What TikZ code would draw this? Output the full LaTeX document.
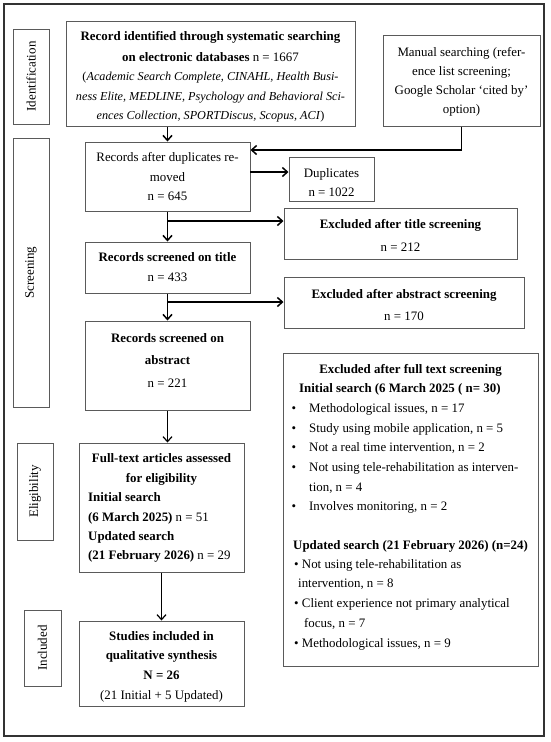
\documentclass[tikz,border=0pt]{standalone}
\usepackage{fontspec}
\setmainfont{Liberation Serif}
\usetikzlibrary{arrows.meta}
\definecolor{boxgray}{HTML}{5A5A5A}
\definecolor{framegray}{HTML}{333333}
\begin{document}
\begin{tikzpicture}[x=1pt,y=-1pt,
  box/.style={draw=boxgray,line width=1pt,inner sep=0pt},
  txt/.style={inner sep=0pt,anchor=base,font=\fontsize{12.9}{15}\selectfont},
  itxt/.style={txt,font=\fontsize{12.2}{15}\selectfont},
  ltxt/.style={txt,anchor=base west},
  side/.style={inner sep=0pt,rotate=90,font=\fontsize{13}{15}\selectfont},
  arr/.style={line width=1.8pt,-{Straight Barb[length=5pt,width=9pt,line width=1.5pt]}},
  arrthin/.style={line width=1.3pt,-{Straight Barb[length=5pt,width=9pt,line width=1.2pt]}}]
\useasboundingbox (0,0) rectangle (550,742);
% outer frame
\node[draw=framegray,line width=1.1pt,minimum width=540pt,minimum height=732pt,inner sep=0pt] (frame) at (274,370) {};
% side label boxes
\node[box,minimum width=36pt,minimum height=95pt] (idb) at (31,76.5) {};
\node[side] (idt) at (idb.center) {Identification};
\node[box,minimum width=36pt,minimum height=269pt] (scb) at (31,272.5) {};
\node[side] (sct) at (scb.center) {Screening};
\node[box,minimum width=36pt,minimum height=97pt] (elb) at (35,491.5) {};
\node[side] (elt) at (elb.center) {Eligibility};
\node[box,minimum width=37pt,minimum height=76pt] (inb) at (42.5,648) {};
\node[side] (int) at (inb.center) {Included};
% main boxes
\node[box,minimum width=289pt,minimum height=105pt] (rec) at (210.5,73.5) {};
\node[box,minimum width=157pt,minimum height=91pt] (man) at (461.5,80.5) {};
\node[box,minimum width=165pt,minimum height=69pt] (dup) at (167.5,176.5) {};
\node[box,minimum width=85pt,minimum height=44pt] (dups) at (331.5,179) {};
\node[box,minimum width=233pt,minimum height=51pt] (extit) at (400.5,233.5) {};
\node[box,minimum width=165pt,minimum height=51pt] (tit) at (167.5,267.5) {};
\node[box,minimum width=240pt,minimum height=51pt] (exabs) at (404,302.5) {};
\node[box,minimum width=165pt,minimum height=89pt] (abs) at (167.5,365.5) {};
\node[box,minimum width=255pt,minimum height=313pt] (exfull) at (410.5,509.5) {};
\node[box,minimum width=165pt,minimum height=129pt] (full) at (161.5,507.5) {};
\node[box,minimum width=165pt,minimum height=85pt] (inc) at (161.5,663.5) {};
% texts: record box
\node[txt] (r1) at (210.5,40) {\textbf{Record identified through systematic searching}};
\node[txt] (r2) at (210.5,61) {\textbf{on electronic databases} n = 1667};
\node[itxt] (r3) at (210.5,80) {(\textit{Academic Search Complete, CINAHL, Health Busi-}};
\node[itxt] (r4) at (210.5,100) {\textit{ness Elite, MEDLINE, Psychology and Behavioral Sci-}};
\node[itxt] (r5) at (210.5,119) {\textit{ences Collection, SPORTDiscus, Scopus, ACI})};
% manual
\node[txt] (m1) at (461.5,56) {Manual searching (refer-};
\node[txt] (m2) at (461.5,75) {ence list screening;};
\node[txt] (m3) at (461.5,94) {Google Scholar ‘cited by’};
\node[txt] (m4) at (461.5,113) {option)};
% duplicates removed
\node[txt] (d1) at (167.5,161) {Records after duplicates re-};
\node[txt] (d2) at (167.5,181) {moved};
\node[txt] (d3) at (167.5,200) {n = 645};
\node[txt] (ds1) at (331.5,177) {Duplicates};
\node[txt] (ds2) at (331.5,196) {n = 1022};
% title
\node[txt] (et1) at (400.5,228) {\textbf{Excluded after title screening}};
\node[txt] (et2) at (400.5,251) {n = 212};
\node[txt] (t1) at (167.5,261) {\textbf{Records screened on title}};
\node[txt] (t2) at (167.5,281) {n = 433};
% abstract
\node[txt] (ea1) at (404,298) {\textbf{Excluded after abstract screening}};
\node[txt] (ea2) at (404,320) {n = 170};
\node[txt] (a1) at (167.5,342) {\textbf{Records screened on}};
\node[txt] (a2) at (167.5,364) {\textbf{abstract}};
\node[txt] (a3) at (167.5,387) {n = 221};
% full text
\node[txt] (f1) at (161.5,462) {\textbf{Full-text articles assessed}};
\node[txt] (f2) at (161.5,482) {\textbf{for eligibility}};
\node[ltxt] (f3) at (88,501) {\textbf{Initial search}};
\node[ltxt] (f4) at (88,521) {\textbf{(6 March 2025)} n = 51};
\node[ltxt] (f5) at (88,540) {\textbf{Updated search}};
\node[ltxt] (f6) at (88,559) {\textbf{(21 February 2026)} n = 29};
% included
\node[txt] (i1) at (161.5,640) {\textbf{Studies included in}};
\node[txt] (i2) at (161.5,659) {\textbf{qualitative synthesis}};
\node[txt] (i3) at (161.5,679) {\textbf{N = 26}};
\node[txt] (i4) at (161.5,699) {(21 Initial + 5 Updated)};
% excluded full text
\node[txt] (x0) at (410.5,373) {\textbf{Excluded after full text screening}};
\node[ltxt] (x1) at (299,392) {\textbf{Initial search (6 March 2025 ( n= 30)}};
\node[txt] (xb1) at (294,412) {•};
\node[ltxt] (x2) at (309,412) {Methodological issues, n = 17};
\node[txt] (xb2) at (294,432) {•};
\node[ltxt] (x3) at (309,432) {Study using mobile application, n = 5};
\node[txt] (xb3) at (294,451) {•};
\node[ltxt] (x4) at (309,451) {Not a real time intervention, n = 2};
\node[txt] (xb4) at (294,471) {•};
\node[ltxt] (x5) at (309,471) {Not using tele-rehabilitation as interven-};
\node[ltxt] (x6) at (309,491) {tion, n = 4};
\node[txt] (xb5) at (294,510) {•};
\node[ltxt] (x7) at (309,510) {Involves monitoring, n = 2};
\node[ltxt] (y1) at (293,549) {\textbf{Updated search (21 February 2026) (n=24)}};
\node[ltxt] (y2) at (294,568) {• Not using tele-rehabilitation as};
\node[ltxt] (y3) at (298,587) {intervention, n = 8};
\node[ltxt] (y4) at (294,607) {• Client experience not primary analytical};
\node[ltxt] (y5) at (304,627) {focus, n = 7};
\node[ltxt] (y6) at (294,647) {• Methodological issues, n = 9};
% connectors
\draw[arr] (dup.north |- rec.south) -- (dup.north);
\coordinate (mj) at (461.5,150);
\draw[arr] (man.south) -- (mj) -- (mj -| dup.east);
\coordinate (dj) at (250,172);
\draw[arr] (dj) -- (dj -| dups.west);
\draw[arr] (dup.south) -- (tit.north);
\coordinate (b1) at (167.5,221);
\draw[arr] (b1) -- (b1 -| extit.west);
\draw[arr] (tit.south) -- (abs.north);
\coordinate (b2) at (167.5,302);
\draw[arr] (b2) -- (b2 -| exabs.west);
\draw[arrthin] (abs.south) -- (abs.south |- full.north);
\draw[arrthin] (full.south) -- (inc.north);
\end{tikzpicture}
\end{document}
